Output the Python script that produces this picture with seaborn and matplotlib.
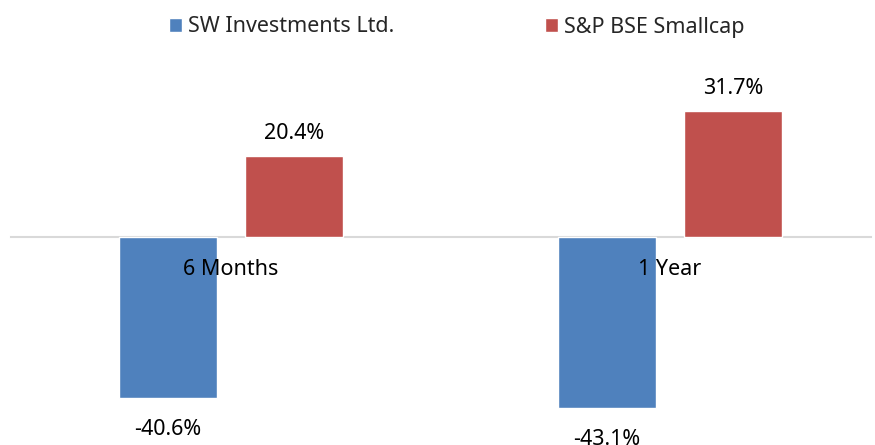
import matplotlib
matplotlib.use("Agg")
import matplotlib.pyplot as plt
import seaborn as sns
import pandas as pd

categories = ["6 Months", "1 Year"]
series_names = ["SW Investments Ltd.", "S&P BSE Smallcap"]
sw_values = [-40.6, -43.1]
bse_values = [20.4, 31.7]
colors = ["#4F81BD", "#C0504D"]

sns.set_theme(style="white")
plt.rcParams["font.family"] = ["Noto Sans", "DejaVu Sans"]
FS = 15.5

df = pd.DataFrame({
    "period": categories * 2,
    "series": [series_names[0]] * 2 + [series_names[1]] * 2,
    "value": sw_values + bse_values,
})

fig = plt.figure(figsize=(8.75, 4.45), dpi=100)
ax = fig.add_axes([11 / 875, 0, 860 / 875, 385 / 445])

sns.barplot(data=df, x="period", y="value", hue="series", order=categories,
            hue_order=series_names, palette=colors, width=0.574, gap=0.223,
            saturation=1, ax=ax, legend=True)

ax.set_ylim(-52.4, 44.6)
ax.set_xlim(-0.5, 1.458)
for s in ["top", "right", "left"]:
    ax.spines[s].set_visible(False)
ax.spines["bottom"].set_position(("data", 0))
ax.spines["bottom"].set_color("#d9d9d9")
ax.spines["bottom"].set_linewidth(1.5)
ax.spines["bottom"].set_zorder(0.5)
ax.xaxis.set_zorder(5)
ax.set_yticks([])
ax.tick_params(axis="x", length=0, pad=16, labelsize=FS, labelcolor="#000000")
ax.set_xlabel("")
ax.set_ylabel("")

pads = [15, 9]
for cont, p in zip(ax.containers, pads):
    ax.bar_label(cont, fmt="%.1f%%", padding=p, fontsize=FS, color="#000000")

handles, labels = ax.get_legend_handles_labels()
ax.get_legend().remove()
fig.legend(handles, labels, loc="center", bbox_to_anchor=(0.522, 1 - 27 / 445),
           ncol=2, frameon=False, fontsize=FS, handlelength=0.6, handleheight=0.6,
           handletextpad=0.3, columnspacing=7.0)

fig.savefig("out.png", dpi=100)
